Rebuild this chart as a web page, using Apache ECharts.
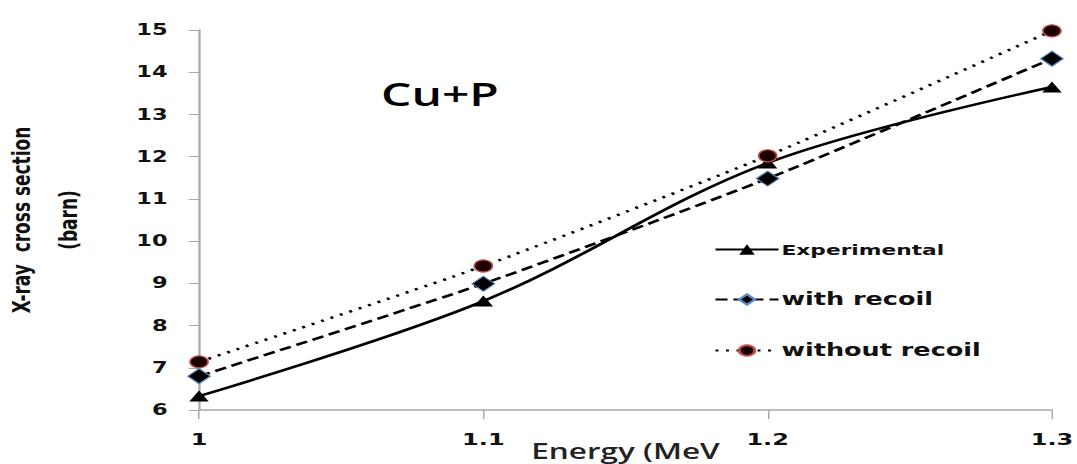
<!DOCTYPE html>
<html><head><meta charset="utf-8">
<script src="https://cdn.jsdelivr.net/npm/echarts@6/dist/echarts.min.js"></script>
<style>
html,body{margin:0;padding:0;background:#fff;overflow:hidden;width:1077px;height:464px}
#c{width:718px;height:464px;transform:scaleX(1.5);transform-origin:0 0}
</style>
</head><body><div id="c"></div>
<script>
const energies = [1, 1.1, 1.2, 1.3];
const experimental = [6.33, 8.58, 11.85, 13.65];
const withRecoil = [6.80, 8.99, 11.48, 14.32];
const withoutRecoil = [7.14, 9.41, 12.02, 14.98];
const seriesNames = ['Experimental', 'with recoil', 'without recoil'];

const pair = (ys) => energies.map((x, i) => [x, ys[i]]);
const chart = echarts.init(document.getElementById('c'), null, {renderer: 'svg'});
chart.setOption({
  animation: false,
  title: {text: 'Cu+P', left: 249, top: 72, textStyle: {fontFamily: 'Open Sans', fontWeight: 600, fontSize: 32, color: '#000'}},
  grid: {left: 132.7, right: 16.7, top: 30, bottom: 54, outerBoundsMode: 'none', containLabel: false},
  legend: {
    orient: 'vertical', left: 471, top: 237, itemGap: 34, itemWidth: 42, itemHeight: 13,
    data: [
      {name: seriesNames[0], textStyle: {fontSize: 14.5}},
      {name: seriesNames[1], textStyle: {fontSize: 17}},
      {name: seriesNames[2], textStyle: {fontSize: 17}}
    ],
    textStyle: {fontFamily: 'DejaVu Sans', fontWeight: 'bold', color: '#111', padding: [0,0,0,-3]}
  },
  xAxis: {
    type: 'value', min: 1, max: 1.3, interval: 0.1,
    name: 'Energy (MeV', nameLocation: 'middle', nameGap: 30, nameMoveOverlap: false,
    nameTextStyle: {fontFamily: 'Open Sans', fontWeight: 600, fontSize: 21, color: '#222', verticalAlign: 'top'},
    axisLine: {lineStyle: {color: '#aaa', width: 1.5}},
    axisTick: {show: true, length: 9, lineStyle: {color: '#aaa'}},
    splitLine: {show: false},
    axisLabel: {margin: 22, fontFamily: 'DejaVu Sans', fontWeight: 'bold', fontSize: 16, color: '#111'}
  },
  yAxis: {
    type: 'value', min: 6, max: 15, interval: 1,
    name: 'X-ray  cross section\n(barn)', nameLocation: 'middle', nameGap: 72, nameRotate: 90, nameMoveOverlap: false,
    nameTextStyle: {fontFamily: 'DejaVu Sans', fontWeight: 'bold', fontSize: 17, color: '#111', lineHeight: 31},
    axisLine: {show: true, lineStyle: {color: '#aaa', width: 1.5}},
    axisTick: {show: true, length: 7, lineStyle: {color: '#aaa'}},
    splitLine: {show: false},
    axisLabel: {margin: 21, fontFamily: 'DejaVu Sans', fontWeight: 'bold', fontSize: 15, color: '#111'}
  },
  series: [
    {name: seriesNames[0], type: 'line', data: pair(experimental), smooth: 0.35,
     symbol: 'triangle', symbolSize: [13, 11], lineStyle: {color: '#000', width: 2.5, type: 'solid'},
     itemStyle: {color: '#000'}},
    {name: seriesNames[1], type: 'line', data: pair(withRecoil), smooth: 0.2,
     symbol: 'diamond', symbolSize: [15, 15], lineStyle: {color: '#000', width: 2.5, type: [8, 4]},
     itemStyle: {color: '#000', borderColor: '#5b86c0', borderWidth: 1}},
    {name: seriesNames[2], type: 'line', data: pair(withoutRecoil), smooth: 0.2,
     symbol: 'circle', symbolSize: 12, lineStyle: {color: '#000', width: 2.5, type: [2, 5]},
     itemStyle: {color: '#1a0000', borderColor: '#c0504d', borderWidth: 1.2}}
  ]
});
</script></body></html>
